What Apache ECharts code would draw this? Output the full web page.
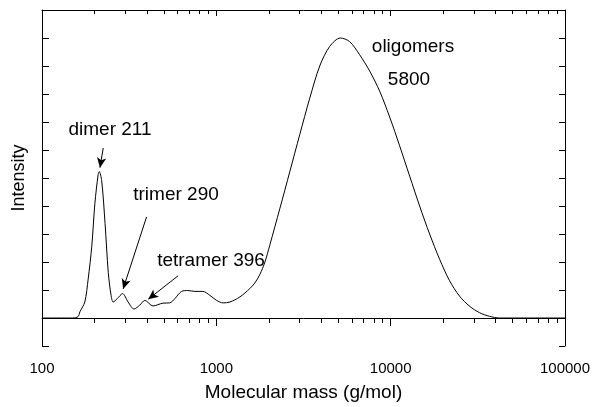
<!DOCTYPE html>
<html>
<head>
<meta charset="utf-8">
<script src="https://cdn.jsdelivr.net/npm/echarts@6/dist/echarts.min.js"></script>
<style>
  html, body { margin: 0; padding: 0; background: #fff; }
  #chart { width: 593px; height: 407px; }
</style>
</head>
<body>
<div id="chart"></div>
<script>
// molecular mass (g/mol)
const massValues = [100, 150, 161, 165, 176, 184, 193, 201, 210, 213, 220, 230, 240, 249, 256, 270,
  290, 312, 337, 364, 389, 433, 494, 541, 578, 632, 687, 753, 837, 918, 1003, 1094, 1195, 1363,
  1556, 1662, 1776, 1900, 2026, 2312, 2638, 3010, 3435, 3919, 4472, 5149, 5821, 6643, 7581, 8650,
  9869, 11260, 12850, 14660, 16730, 19090, 21780, 24850, 28370, 32360, 36930, 42130, 100000];
const intensityValues = [0, 0, 0.05, 0.22, 0.57, 1.39, 2.56, 4.08, 5.13, 5.23, 4.9, 3.38, 1.62, 0.81, 0.57, 0.69,
  0.87, 0.57, 0.32, 0.46, 0.63, 0.43, 0.53, 0.54, 0.69, 0.95, 0.98, 0.95, 0.95, 0.81, 0.63, 0.54, 0.57, 0.75,
  1.05, 1.25, 1.55, 2.0, 2.6, 3.9, 5.22, 6.55, 7.85, 9.0, 9.7, 10.0, 9.87, 9.4, 8.82, 8.1,
  7.18, 6.15, 5.07, 4.0, 3.0, 2.1, 1.33, 0.78, 0.42, 0.19, 0.06, 0, 0];

const xMajorTicks = [100, 1000, 10000, 100000];
const xMinorTicks = [200, 300, 400, 500, 600, 700, 800, 900,
  2000, 3000, 4000, 5000, 6000, 7000, 8000, 9000,
  20000, 30000, 40000, 50000, 60000, 70000, 80000, 90000];

// annotations: label text and arrow [mass, intensity] start/end
const annotationTexts = ['dimer 211', 'trimer 290', 'tetramer 396', 'oligomers', '5800'];
const arrowStarts = [[224.5, 6.07], [398, 3.61], [604, 1.51]];
const arrowEnds = [[215, 5.37], [292, 1.04], [407, 0.67]];

const FONT = '"Liberation Sans", Arial, Helvetica, sans-serif';
const chart = echarts.init(document.getElementById('chart'));

const seriesData = massValues.map((m, i) => [m, intensityValues[i]]);
const arrowData = arrowStarts.map((s, i) => [{ coord: s }, { coord: arrowEnds[i] }]);

const baseX = {
  type: 'log',
  logBase: 10,
  min: 100,
  max: 100000,
  splitLine: { show: false }
};

const labelPos = [
  [110, 130], [176, 195], [211, 261], [413, 47], [409, 80]
];

const option = {
  animation: false,
  grid: { left: 42, right: 28, top: 10, bottom: 56 },
  xAxis: [
    Object.assign({}, baseX, {
      position: 'bottom',
      name: 'Molecular mass (g/mol)',
      nameLocation: 'middle',
      nameGap: 37,
      nameTextStyle: { fontFamily: FONT, fontSize: 19, color: '#000' },
      axisLine: { lineStyle: { color: '#000', width: 1 } },
      axisTick: { inside: false, length: 8, lineStyle: { color: '#000' }, customValues: xMajorTicks },
      axisLabel: {
        customValues: xMajorTicks,
        margin: 15,
        fontFamily: FONT, fontSize: 15, color: '#000',
        formatter: v => String(Math.round(v))
      }
    }),
    Object.assign({}, baseX, {
      position: 'bottom',
      axisLine: { show: false },
      axisTick: { inside: false, length: 5, lineStyle: { color: '#000' }, customValues: xMinorTicks },
      axisLabel: { show: false }
    }),
    Object.assign({}, baseX, {
      position: 'top',
      axisLine: { lineStyle: { color: '#000', width: 1 } },
      axisTick: { inside: true, length: 6, lineStyle: { color: '#000' }, customValues: xMajorTicks },
      axisLabel: { show: false }
    }),
    Object.assign({}, baseX, {
      position: 'top',
      axisLine: { show: false },
      axisTick: { inside: true, length: 4, lineStyle: { color: '#000' }, customValues: xMinorTicks },
      axisLabel: { show: false }
    })
  ],
  yAxis: [
    {
      type: 'value',
      min: -1,
      max: 11,
      interval: 1,
      position: 'left',
      name: 'Intensity',
      nameLocation: 'middle',
      nameGap: 14,
      nameTextStyle: { fontFamily: FONT, fontSize: 18, color: '#000' },
      axisLine: { show: true, lineStyle: { color: '#000', width: 1 } },
      axisTick: { show: true, inside: true, length: 7, lineStyle: { color: '#000' } },
      axisLabel: { show: false },
      splitLine: { show: false }
    },
    {
      type: 'value',
      min: -1,
      max: 11,
      interval: 1,
      position: 'right',
      axisLine: { show: true, lineStyle: { color: '#000', width: 1 } },
      axisTick: { show: true, inside: true, length: 6, lineStyle: { color: '#000' } },
      axisLabel: { show: false },
      splitLine: { show: false }
    }
  ],
  series: [
    {
      type: 'line',
      xAxisIndex: 0,
      yAxisIndex: 0,
      data: seriesData,
      smooth: 0.3,
      showSymbol: false,
      lineStyle: { color: '#000', width: 1 },
      markLine: {
        silent: true,
        symbol: ['none', 'arrow'],
        symbolSize: [7, 10],
        label: { show: false },
        lineStyle: { color: '#000', width: 1, type: 'solid' },
        data: arrowData
      }
    }
  ],
  graphic: annotationTexts.map((t, i) => ({
    type: 'text',
    x: labelPos[i][0],
    y: labelPos[i][1],
    style: {
      text: t,
      font: '19px ' + FONT,
      fill: '#000',
      align: 'center',
      verticalAlign: 'middle',
      textAlign: 'center',
      textVerticalAlign: 'middle'
    }
  }))
};

chart.setOption(option);
</script>
</body>
</html>
